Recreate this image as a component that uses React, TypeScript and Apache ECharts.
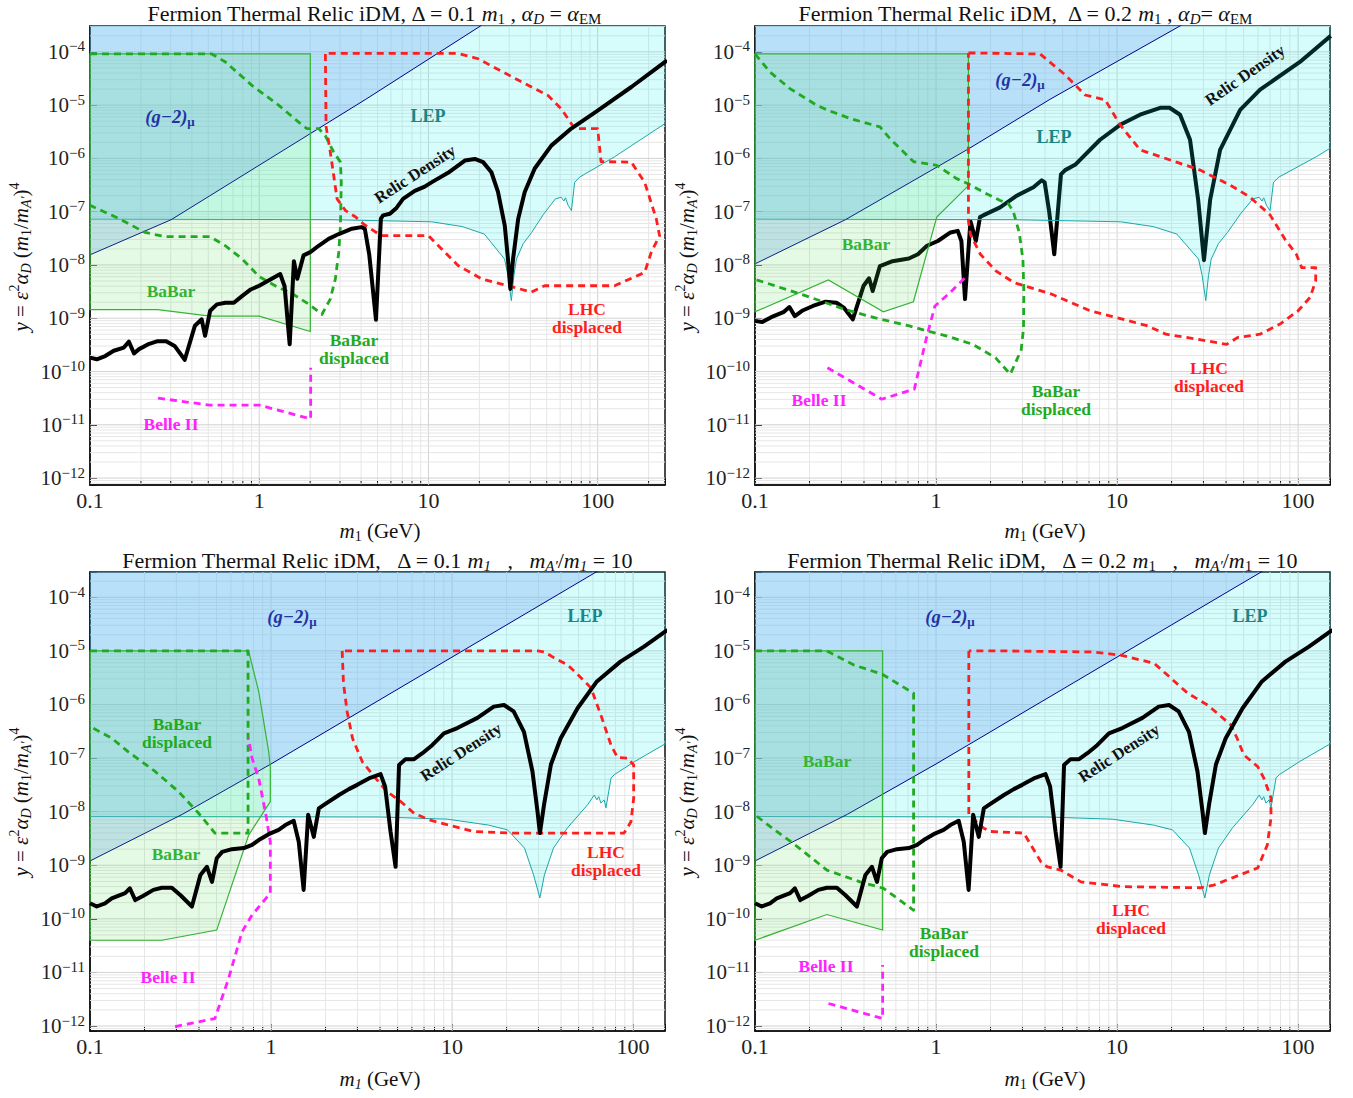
import React, { useEffect, useRef } from "react";
import * as echarts from "echarts";

type P = [number, number];
const SERIF = '"Liberation Serif", "Times New Roman", serif';

// All curves: [log10(m1 / GeV), log10(y)] pairs.

// ---------- shared ----------
const lepTop_log: P[] = [[-1,-7.14],[0.43,-7.15],[1.02,-7.19],[1.2,-7.28],[1.33,-7.42],[1.45,-7.89],[1.47,-8.2],[1.49,-8.67],[1.505,-8.2],[1.52,-7.89],[1.56,-7.6],[1.61,-7.39],[1.68,-7.05],[1.75,-6.76],[1.785,-6.73],[1.80,-6.80],[1.81,-6.74],[1.825,-6.88],[1.845,-6.98],[1.864,-6.45],[1.894,-6.35],[2.1,-5.97],[2.42,-5.3]];
const lepBottom_log: P[] = [[-1,-8.09],[0.605,-8.10],[0.974,-8.14],[1.2,-8.25],[1.306,-8.34],[1.40,-8.68],[1.45,-9.18],[1.485,-9.61],[1.51,-9.18],[1.56,-8.68],[1.638,-8.30],[1.749,-7.87],[1.785,-7.69],[1.80,-7.78],[1.81,-7.72],[1.822,-7.84],[1.84,-7.78],[1.85,-7.93],[1.878,-7.37],[1.896,-7.31],[2.006,-7.07],[2.2,-6.69]];
const g2A_log: P[] = [[-1,-7.81],[-0.52,-7.15],[0.63,-4.89],[1.31,-3.51],[1.8,-2.5]];
const g2B_log: P[] = [[-1,-7.98],[-0.5,-7.15],[0.18,-5.82],[0.63,-4.89],[1.35,-3.51],[1.8,-2.65]];
const g2Bottom_log: P[] = [[-1,-8.92],[-0.49,-8.05],[0,-7.11],[1.795,-3.53],[2.3,-2.5]];
const relicBottom_log: P[] = [[-1,-9.71],[-0.963,-9.77],[-0.917,-9.71],[-0.88,-9.62],[-0.806,-9.52],[-0.78,-9.43],[-0.75,-9.65],[-0.705,-9.57],[-0.65,-9.46],[-0.603,-9.42],[-0.548,-9.42],[-0.50,-9.56],[-0.437,-9.77],[-0.39,-9.18],[-0.354,-9.03],[-0.326,-9.31],[-0.30,-8.87],[-0.27,-8.75],[-0.216,-8.70],[-0.15,-8.68],[-0.105,-8.62],[-0.068,-8.53],[-0.013,-8.42],[0.042,-8.34],[0.079,-8.25],[0.125,-8.17],[0.153,-8.56],[0.18,-9.46],[0.205,-8.06],[0.236,-8.47],[0.264,-7.94],[0.29,-7.88],[0.375,-7.69],[0.43,-7.58],[0.476,-7.50],[0.54,-7.38],[0.605,-7.30],[0.63,-7.53],[0.66,-8.37],[0.688,-9.03],[0.707,-7.13],[0.743,-7.02],[0.79,-7.02],[0.836,-6.91],[0.89,-6.76],[0.955,-6.54],[1.029,-6.44],[1.14,-6.25],[1.23,-6.04],[1.287,-6.01],[1.34,-6.13],[1.397,-6.51],[1.444,-7.25],[1.472,-8.0],[1.485,-8.40],[1.508,-7.87],[1.546,-7.12],[1.60,-6.63],[1.693,-6.07],[1.80,-5.57],[1.93,-5.20],[2.06,-4.92],[2.19,-4.61]];

// ---------- Panel A: Δ = 0.1 m1, αD = αEM ----------
const relicA_log: P[] = [[-1,-9.74],[-0.96,-9.77],[-0.91,-9.71],[-0.86,-9.61],[-0.80,-9.55],[-0.77,-9.44],[-0.74,-9.66],[-0.71,-9.58],[-0.65,-9.48],[-0.60,-9.43],[-0.55,-9.43],[-0.50,-9.52],[-0.44,-9.78],[-0.38,-9.14],[-0.34,-9.02],[-0.32,-9.33],[-0.29,-8.86],[-0.25,-8.74],[-0.20,-8.71],[-0.15,-8.71],[-0.10,-8.58],[-0.05,-8.46],[0,-8.39],[0.05,-8.30],[0.124,-8.17],[0.15,-8.4],[0.18,-9.49],[0.205,-7.93],[0.225,-8.26],[0.262,-7.82],[0.302,-7.76],[0.351,-7.64],[0.41,-7.51],[0.47,-7.42],[0.548,-7.32],[0.604,-7.29],[0.624,-7.32],[0.65,-7.8],[0.69,-9.03],[0.719,-7.13],[0.732,-7.07],[0.772,-7.04],[0.811,-6.93],[0.85,-6.76],[0.919,-6.61],[0.978,-6.53],[1.018,-6.45],[1.116,-6.27],[1.215,-6.04],[1.274,-6.01],[1.323,-6.07],[1.372,-6.26],[1.411,-6.63],[1.451,-7.26],[1.47,-7.89],[1.484,-8.45],[1.50,-7.89],[1.53,-7.14],[1.569,-6.63],[1.628,-6.19],[1.726,-5.76],[1.844,-5.44],[2.002,-5.10],[2.199,-4.66],[2.41,-4.16]];
const babarA_log: P[] = [[-1,-4.04],[0.302,-4.04],[0.302,-9.25],[0,-8.96],[-0.29,-8.96],[-0.60,-8.84],[-1,-8.84]];
const babarDispA_log: P[] = [[-1,-4.04],[-0.28,-4.04],[-0.20,-4.19],[-0.043,-4.63],[0.114,-5.00],[0.233,-5.32],[0.282,-5.44],[0.351,-5.44],[0.39,-5.57],[0.44,-5.88],[0.48,-6.07],[0.485,-6.45],[0.48,-7.26],[0.47,-7.76],[0.45,-8.26],[0.42,-8.64],[0.37,-8.93],[0.3,-8.75],[0.2,-8.55],[0.1,-8.4],[0,-8.22],[-0.1,-7.89],[-0.2,-7.64],[-0.29,-7.47],[-0.556,-7.47],[-0.674,-7.39],[-0.83,-7.13],[-1,-6.88]];
const lhcA_log: P[] = [[0.391,-4.04],[0.395,-5.4],[0.42,-5.88],[0.44,-6.32],[0.46,-6.76],[0.51,-6.98],[0.57,-7.10],[0.62,-7.24],[0.72,-7.45],[1.0,-7.45],[1.04,-7.58],[1.175,-8.01],[1.313,-8.26],[1.47,-8.39],[1.608,-8.51],[1.687,-8.39],[2.10,-8.39],[2.278,-8.14],[2.317,-7.76],[2.366,-7.45],[2.346,-7.13],[2.278,-6.45],[2.199,-6.07],[2.02,-6.06],[2.0,-5.44],[1.864,-5.44],[1.785,-5.07],[1.707,-4.82],[1.53,-4.53],[1.293,-4.13],[1.175,-4.03],[0.391,-4.03]];
const belleA_log: P[] = [[-0.598,-10.5],[-0.294,-10.63],[0,-10.63],[0.304,-10.89],[0.304,-9.93]];

// ---------- Panel B: Δ = 0.2 m1, αD = αEM ----------
const relicB_log: P[] = [[-1,-9.05],[-0.96,-9.07],[-0.91,-8.98],[-0.84,-8.88],[-0.81,-8.79],[-0.78,-8.96],[-0.74,-8.86],[-0.68,-8.77],[-0.61,-8.69],[-0.55,-8.71],[-0.51,-8.80],[-0.46,-9.02],[-0.40,-8.39],[-0.37,-8.25],[-0.35,-8.49],[-0.31,-8.02],[-0.24,-7.93],[-0.15,-7.88],[-0.10,-7.80],[-0.05,-7.64],[0.01,-7.55],[0.08,-7.39],[0.12,-7.36],[0.14,-7.55],[0.16,-8.64],[0.19,-7.18],[0.22,-7.55],[0.243,-7.10],[0.26,-7.07],[0.354,-6.92],[0.446,-6.70],[0.538,-6.54],[0.584,-6.41],[0.60,-6.45],[0.625,-7.0],[0.653,-7.8],[0.69,-6.3],[0.713,-6.22],[0.768,-6.12],[0.906,-5.65],[1.017,-5.37],[1.127,-5.18],[1.238,-5.05],[1.29,-5.05],[1.348,-5.18],[1.403,-5.65],[1.448,-6.78],[1.48,-7.91],[1.514,-6.78],[1.569,-5.84],[1.68,-5.09],[1.79,-4.71],[2.01,-4.19],[2.18,-3.70]];
const babarB_log: P[] = [[-1,-4.04],[0.179,-4.04],[0.179,-6.51],[0.004,-7.10],[-0.125,-8.69],[-0.291,-8.88],[-0.595,-8.28],[-1,-8.88]];
const babarDispB_log: P[] = [[-1,-4.04],[-0.917,-4.38],[-0.807,-4.69],[-0.66,-5.0],[-0.595,-5.10],[-0.475,-5.25],[-0.309,-5.41],[-0.254,-5.63],[-0.125,-6.06],[0.004,-6.13],[0.114,-6.38],[0.179,-6.48],[0.26,-6.63],[0.354,-6.79],[0.40,-6.85],[0.427,-7.0],[0.46,-7.4],[0.48,-7.9],[0.485,-8.5],[0.483,-9.2],[0.47,-9.6],[0.41,-10.05],[0.328,-9.74],[0.203,-9.49],[0.056,-9.33],[-0.048,-9.24],[-0.153,-9.14],[-0.34,-8.99],[-0.508,-8.83],[-0.718,-8.58],[-1,-8.27]];
const lhcB_log: P[] = [[0.179,-4.02],[0.575,-4.04],[0.713,-4.43],[0.823,-4.81],[0.934,-4.90],[1.017,-5.37],[1.127,-5.84],[1.293,-6.03],[1.459,-6.22],[1.624,-6.50],[1.735,-6.73],[1.845,-7.06],[1.93,-7.53],[1.99,-7.80],[2.02,-8.05],[2.097,-8.05],[2.097,-8.30],[2.066,-8.61],[2.0,-8.86],[1.90,-9.11],[1.79,-9.30],[1.667,-9.36],[1.605,-9.49],[1.437,-9.39],[1.27,-9.30],[1.165,-9.14],[1.0,-8.99],[0.85,-8.86],[0.64,-8.55],[0.43,-8.33],[0.33,-8.11],[0.245,-7.80],[0.19,-7.43],[0.179,-7.18],[0.179,-4.02]];
const belleB_log: P[] = [[-0.60,-9.93],[-0.30,-10.52],[-0.12,-10.33],[-0.048,-9.30],[-0.006,-8.77],[0.077,-8.52],[0.16,-8.24]];

// ---------- Panel C: Δ = 0.1 m1, mA'/m1 = 10 ----------
const babarC_log: P[] = [[-1,-5.0],[-0.124,-5.0],[-0.068,-5.76],[-0.013,-6.88],[-0.004,-7.16],[-0.004,-7.81],[-0.124,-8.44],[-0.30,-10.21],[-0.603,-10.40],[-1,-10.40]];
const babarDispC_log: P[] = [[-1,-5.0],[-0.127,-5.0],[-0.127,-8.40],[-0.31,-8.40],[-0.40,-8.03],[-0.51,-7.63],[-0.64,-7.25],[-0.79,-6.88],[-0.88,-6.63],[-1,-6.41]];
const belleC_log: P[] = [[-0.53,-12.01],[-0.31,-11.86],[-0.234,-11.11],[-0.16,-10.24],[-0.105,-9.93],[-0.004,-9.52],[-0.004,-8.56],[-0.03,-8.03],[-0.068,-7.38],[-0.105,-7.0],[-0.124,-6.63]];
const lhcC_log: P[] = [[0.393,-5.0],[0.40,-5.6],[0.42,-6.13],[0.45,-6.63],[0.504,-7.07],[0.578,-7.38],[0.642,-7.63],[0.716,-7.81],[0.79,-8.03],[0.88,-8.16],[1.12,-8.37],[1.34,-8.40],[1.95,-8.40],[1.988,-8.19],[2.003,-7.75],[2.003,-7.13],[1.97,-7.0],[1.914,-6.99],[1.878,-6.76],[1.822,-6.20],[1.767,-5.69],[1.712,-5.50],[1.638,-5.26],[1.564,-5.13],[1.509,-5.02],[1.472,-5.0],[0.393,-5.0]];

// ---------- Panel D: Δ = 0.2 m1, mA'/m1 = 10 ----------
const babarD_log: P[] = [[-1,-5.0],[-0.295,-5.0],[-0.295,-10.21],[-0.603,-9.92],[-1,-10.40]];
const babarDispD_log: P[] = [[-1,-5.0],[-0.603,-5.0],[-0.456,-5.26],[-0.295,-5.44],[-0.124,-5.79],[-0.124,-9.84],[-0.29,-9.43],[-0.42,-9.31],[-0.603,-9.09],[-0.79,-8.59],[-0.88,-8.37],[-1,-8.06]];
const belleD_log: P[] = [[-0.594,-11.58],[-0.295,-11.86],[-0.295,-10.86]];
const lhcD_log: P[] = [[0.181,-5.0],[0.181,-8.06],[0.264,-8.31],[0.30,-8.37],[0.485,-8.40],[0.578,-8.93],[0.614,-9.03],[0.688,-9.09],[0.80,-9.31],[1.036,-9.40],[1.46,-9.42],[1.535,-9.37],[1.777,-9.05],[1.83,-8.62],[1.85,-8.12],[1.85,-7.74],[1.81,-7.37],[1.777,-7.16],[1.70,-6.94],[1.663,-6.63],[1.628,-6.38],[1.50,-6.01],[1.39,-5.79],[1.278,-5.45],[1.204,-5.23],[1.13,-5.17],[1.02,-5.08],[0.87,-5.02],[0.356,-5.0],[0.181,-5.0]];

// axis ranges
const xRangeA: P = [0.1, 250];
const xRangeOther: P = [0.1, 150];
const yRangeTop: P = [7.41e-13, 3.055e-4];
const yRangeBottom: P = [8.07e-13, 2.965e-4];
const xTickLabels: Record<string, string> = { "-1": "0.1", "0": "1", "1": "10", "2": "100" };

const C = {
  lepLine: "#19a8a8", lepFill: "rgba(0,236,236,0.16)",
  g2Line: "#00008b", g2Fill: "rgba(130,175,245,0.36)",
  babarLine: "#35b335", babarFill: "rgba(80,220,80,0.15)",
  green: "#1faa1f", red: "#ff1e1e", magenta: "#ff22ff",
};

const fromLog = (pts: P[]): P[] => pts.map(([a, b]) => [Math.pow(10, a), Math.pow(10, b)]);

function gridValues([lo, hi]: P) {
  const out: [number, boolean][] = [];
  for (let e = Math.floor(Math.log10(lo)); e <= Math.ceil(Math.log10(hi)); e++)
    for (let m = 1; m <= 9; m++) {
      const v = m * Math.pow(10, e);
      if (v > lo * 1.0001 && v < hi * 0.9999) out.push([v, m === 1]);
    }
  return out;
}

function gridSeries(i: number, xr: P, yr: P) {
  const xs = gridValues(xr), ys = gridValues(yr);
  return {
    type: "custom", xAxisIndex: i, yAxisIndex: i, z: 1, silent: true,
    data: [[xr[0], yr[0]]],
    renderItem: (_p: any, api: any) => {
      const children: any[] = [];
      xs.forEach(([v, major]) => {
        const a = api.coord([v, yr[0]]), b = api.coord([v, yr[1]]);
        children.push({ type: "line", shape: { x1: a[0], y1: a[1], x2: b[0], y2: b[1] }, style: { stroke: major ? "#d2d2d2" : "#e6e6e6", lineWidth: 1 } });
        if (!major) children.push({ type: "line", shape: { x1: a[0], y1: a[1], x2: a[0], y2: a[1] - 4 }, style: { stroke: "#000", lineWidth: 1 } });
      });
      ys.forEach(([v, major]) => {
        const a = api.coord([xr[0], v]), b = api.coord([xr[1], v]);
        children.push({ type: "line", shape: { x1: a[0], y1: a[1], x2: b[0], y2: b[1] }, style: { stroke: major ? "#d2d2d2" : "#e6e6e6", lineWidth: 1 } });
      });
      return { type: "group", children };
    },
  };
}

function lineS(i: number, data: P[], color: string, width: number, dashed: boolean, z: number) {
  return {
    type: "line", xAxisIndex: i, yAxisIndex: i, data: fromLog(data), symbol: "none", showSymbol: false,
    silent: true, z, lineStyle: { color, width, type: dashed ? [7, 5] : "solid", cap: "butt", join: "round" },
  };
}
function areaS(i: number, data: P[], color: string, fill: string, z: number) {
  return {
    type: "line", xAxisIndex: i, yAxisIndex: i, data: fromLog(data), symbol: "none", showSymbol: false,
    silent: true, z, lineStyle: { color, width: 1 }, areaStyle: { color: fill, origin: "end", opacity: 1 },
  };
}
function polyS(i: number, data: P[], stroke: string, fill: string, z: number) {
  const pts = fromLog(data);
  return {
    type: "custom", xAxisIndex: i, yAxisIndex: i, z, silent: true, data: [pts[0]],
    renderItem: (_p: any, api: any) => ({
      type: "polygon", shape: { points: pts.map((p) => api.coord(p)) },
      style: { fill, stroke, lineWidth: 1.2 },
    }),
  };
}

const richFor = (s: number, extra: any = {}) => ({
  i: { fontStyle: "italic", fontSize: s, fontFamily: SERIF, verticalAlign: "middle", ...extra },
  sb: { fontSize: Math.round(s * 0.68), fontFamily: SERIF, padding: [Math.round(s * 0.5), 0, 0, 0], verticalAlign: "middle", ...extra },
  sbi: { fontStyle: "italic", fontSize: Math.round(s * 0.68), fontFamily: SERIF, padding: [Math.round(s * 0.5), 0, 0, 0], verticalAlign: "middle", ...extra },
  sp: { fontSize: Math.round(s * 0.68), fontFamily: SERIF, padding: [0, 0, Math.round(s * 0.6), 0], verticalAlign: "middle", ...extra },
});

function txt(x: number, y: number, text: string, o: any = {}) {
  const size = o.size || 16;
  return {
    type: "text", x, y, z: 100, rotation: o.rot || 0, silent: true,
    style: {
      text, fill: o.color || "#111", fontSize: size, fontFamily: SERIF,
      fontWeight: o.weight || "normal", fontStyle: o.style || "normal",
      align: "center", verticalAlign: "middle", textAlign: "center", textVerticalAlign: "middle",
      lineHeight: o.lh || Math.round(size * 1.05),
      rich: richFor(size, o.weight ? { fontWeight: o.weight, fill: o.color || "#111" } : {}),
    },
  };
}

const panels = [
  { grid: { left: 90, top: 26, width: 575, height: 459 }, xr: xRangeA, yr: yRangeTop, relic: relicA_log, relicZ: 8, lep: lepTop_log, g2: g2A_log, babar: babarA_log, disp: babarDispA_log, lhc: lhcA_log, belle: belleA_log },
  { grid: { left: 755, top: 26, width: 575, height: 459 }, xr: xRangeOther, yr: yRangeTop, relic: relicB_log, relicZ: 2, lep: lepTop_log, g2: g2B_log, babar: babarB_log, disp: babarDispB_log, lhc: lhcB_log, belle: belleB_log },
  { grid: { left: 90, top: 572, width: 575, height: 459 }, xr: xRangeOther, yr: yRangeBottom, relic: relicBottom_log, relicZ: 8, lep: lepBottom_log, g2: g2Bottom_log, babar: babarC_log, disp: babarDispC_log, lhc: lhcC_log, belle: belleC_log },
  { grid: { left: 755, top: 572, width: 575, height: 459 }, xr: xRangeOther, yr: yRangeBottom, relic: relicBottom_log, relicZ: 8, lep: lepBottom_log, g2: g2Bottom_log, babar: babarD_log, disp: babarDispD_log, lhc: lhcD_log, belle: belleD_log },
];

const isPow = (v: number) => { const e = Math.log10(v); return Math.abs(e - Math.round(e)) < 1e-6 ? Math.round(e) : null; };

function buildOption() {
  const grid: any[] = [], xAxis: any[] = [], yAxis: any[] = [], series: any[] = [];
  panels.forEach((p, i) => {
    grid.push({ ...p.grid, show: true, borderColor: "#111", borderWidth: 1.5, backgroundColor: "transparent" });
    xAxis.push({
      type: "log", logBase: 10, gridIndex: i, min: p.xr[0], max: p.xr[1],
      axisLine: { show: true, onZero: false, lineStyle: { color: "#111", width: 1.5 } },
      axisTick: { show: true, inside: true, length: 7, lineStyle: { color: "#111" } },
      splitLine: { show: false },
      axisLabel: {
        fontSize: 22, fontFamily: SERIF, color: "#222", margin: 4, showMinLabel: true, showMaxLabel: true,
        formatter: (v: number) => { const e = isPow(v); return e === null ? "" : xTickLabels[String(e)] || ""; },
      },
    });
    yAxis.push({
      type: "log", logBase: 10, gridIndex: i, min: p.yr[0], max: p.yr[1],
      axisLine: { show: true, onZero: false, lineStyle: { color: "#111", width: 1.5 } },
      axisTick: { show: true, inside: true, length: 7, lineStyle: { color: "#111" } },
      splitLine: { show: false },
      axisLabel: {
        fontSize: 21, fontFamily: SERIF, color: "#222", margin: 5,
        formatter: (v: number) => { const e = isPow(v); return e === null ? "" : `{b|10}{s|−${-e}}`; },
        rich: {
          b: { fontSize: 21, fontFamily: SERIF, color: "#222", verticalAlign: "middle" },
          s: { fontSize: 15, fontFamily: SERIF, color: "#222", padding: [0, 0, 11, 0], verticalAlign: "middle" },
        },
      },
    });
    series.push(gridSeries(i, p.xr, p.yr));
    series.push(lineS(i, p.relic, "#000", 4, false, p.relicZ));
    series.push(areaS(i, p.lep, C.lepLine, C.lepFill, 3));
    series.push(areaS(i, p.g2, C.g2Line, C.g2Fill, 4));
    series.push(polyS(i, p.babar, C.babarLine, C.babarFill, 5));
    series.push(lineS(i, p.disp, C.green, 2.8, true, 6));
    series.push(lineS(i, p.lhc, C.red, 2.8, true, 6));
    series.push(lineS(i, p.belle, C.magenta, 2.8, true, 6));
  });

  const B = "bold";
  const lab = (x: number, y: number, t: string, color: string, extra: any = {}) => txt(x, y, t, { size: 17.5, weight: B, color, ...extra });
  const yName = "{i|y} = {i|ε}{sp|2}{i|α}{sbi|D} ({i|m}{sb|1}/{i|m}{sbi|A′}){sp|4}";
  const yn = { size: 21, rot: Math.PI / 2 };
  const graphic = [
    // titles
    txt(374, 13, "Fermion Thermal Relic iDM, Δ = 0.1 {i|m}{sb|1} , {i|α}{sbi|D} = {i|α}{sb|EM}", { size: 22 }),
    txt(1025, 13, "Fermion Thermal Relic iDM,  Δ = 0.2 {i|m}{sb|1} , {i|α}{sbi|D}= {i|α}{sb|EM}", { size: 22 }),
    txt(377, 560, "Fermion Thermal Relic iDM,   Δ = 0.1 {i|m}{sbi|1}   ,   {i|m}{sbi|A′}/{i|m}{sbi|1} = 10", { size: 22 }),
    txt(1042, 560, "Fermion Thermal Relic iDM,   Δ = 0.2 {i|m}{sb|1}   ,   {i|m}{sbi|A′}/{i|m}{sb|1} = 10", { size: 22 }),
    // axis names
    txt(380, 531, "{i|m}{sb|1} (GeV)", { size: 21 }),
    txt(1045, 531, "{i|m}{sb|1} (GeV)", { size: 21 }),
    txt(380, 1079, "{i|m}{sbi|1} (GeV)", { size: 21 }),
    txt(1045, 1079, "{i|m}{sb|1} (GeV)", { size: 21 }),
    txt(21, 257, yName, yn),
    txt(687, 257, yName, yn),
    txt(21, 802, yName, yn),
    txt(687, 802, yName, yn),
    // panel A labels
    lab(170, 117, "(g−2){sb|μ}", "#2233a6", { style: "italic", size: 18.5 }),
    lab(428, 116, "LEP", "#178787", { size: 18 }),
    lab(415, 174, "Relic Density", "#111", { size: 16.5, rot: (33 * Math.PI) / 180 }),
    lab(171, 291, "BaBar", C.babarLine),
    lab(354, 349, "BaBar\ndisplaced", C.green, { lh: 18 }),
    lab(587, 318, "LHC\ndisplaced", C.red, { lh: 18 }),
    lab(171, 424, "Belle II", C.magenta),
    // panel B labels
    lab(1020, 80, "(g−2){sb|μ}", "#2233a6", { style: "italic", size: 18.5 }),
    lab(1054, 137, "LEP", "#178787", { size: 18 }),
    lab(1245, 75, "Relic Density", "#111", { size: 16.5, rot: (35 * Math.PI) / 180 }),
    lab(866, 244, "BaBar", C.babarLine),
    lab(819, 400, "Belle II", C.magenta),
    lab(1056, 400, "BaBar\ndisplaced", C.green, { lh: 18 }),
    lab(1209, 377, "LHC\ndisplaced", C.red, { lh: 18 }),
    // panel C labels
    lab(292, 617, "(g−2){sb|μ}", "#2233a6", { style: "italic", size: 18.5 }),
    lab(585, 616, "LEP", "#178787", { size: 18 }),
    lab(461, 752, "Relic Density", "#111", { size: 16.5, rot: (33 * Math.PI) / 180 }),
    lab(177, 733, "BaBar\ndisplaced", C.green, { lh: 18 }),
    lab(176, 854, "BaBar", C.babarLine),
    lab(168, 977, "Belle II", C.magenta),
    lab(606, 861, "LHC\ndisplaced", C.red, { lh: 18 }),
    // panel D labels
    lab(950, 617, "(g−2){sb|μ}", "#2233a6", { style: "italic", size: 18.5 }),
    lab(1250, 616, "LEP", "#178787", { size: 18 }),
    lab(1119, 753, "Relic Density", "#111", { size: 16.5, rot: (33 * Math.PI) / 180 }),
    lab(827, 761, "BaBar", C.babarLine),
    lab(944, 942, "BaBar\ndisplaced", C.green, { lh: 18 }),
    lab(826, 966, "Belle II", C.magenta),
    lab(1131, 919, "LHC\ndisplaced", C.red, { lh: 18 }),
  ];

  return { animation: false, backgroundColor: "#fff", grid, xAxis, yAxis, series, graphic };
}

export default function App() {
  const ref = useRef<HTMLDivElement>(null);
  useEffect(() => {
    if (!ref.current) return;
    const chart = echarts.init(ref.current, null, { renderer: "svg" });
    chart.setOption(buildOption() as any);
    return () => chart.dispose();
  }, []);
  return <div ref={ref} style={{ position: "absolute", left: 0, top: 0, width: 1353, height: 1098 }} />;
}
